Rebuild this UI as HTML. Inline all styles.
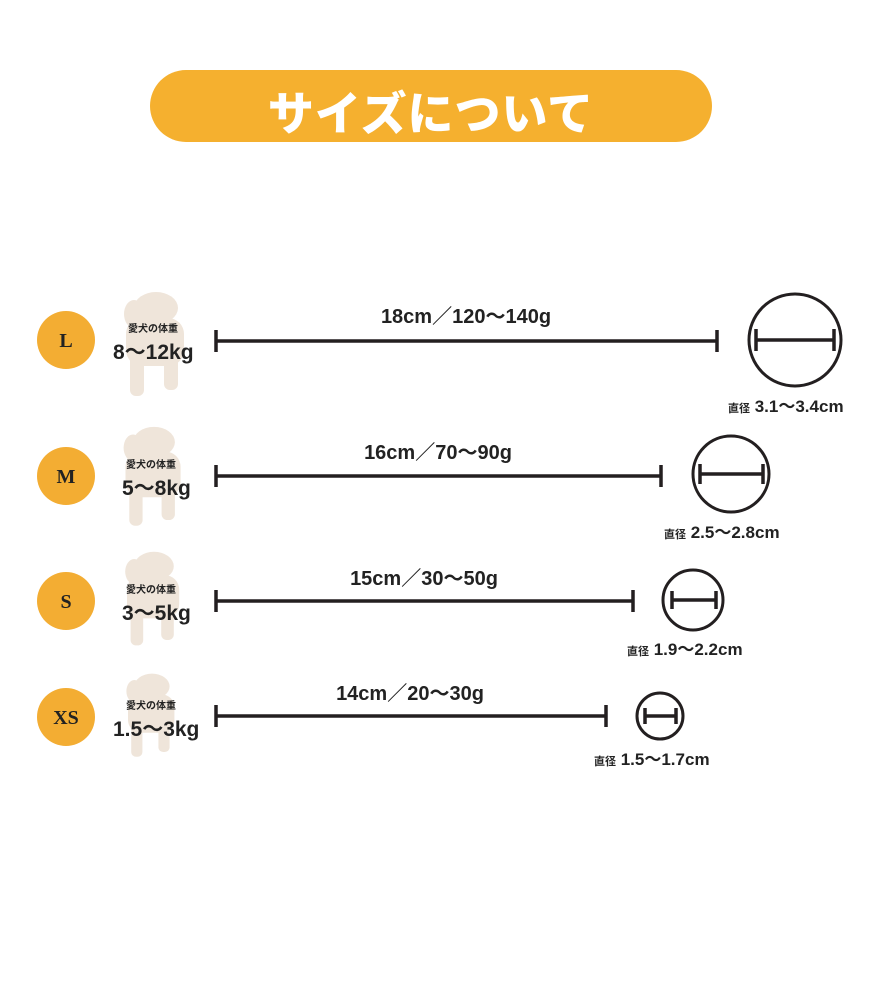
<!DOCTYPE html>
<html><head><meta charset="utf-8"><style>
body{margin:0;background:#fff;}
#c{position:relative;width:891px;height:1000px;overflow:hidden;font-family:"Liberation Sans","Noto Sans CJK JP",sans-serif;color:#222;}
.t{position:absolute;white-space:nowrap;font-weight:bold;}
</style></head><body><div id="c">
<div style="position:absolute;left:150px;top:70px;width:562px;height:72px;border-radius:36px;background:#f5b02f;"></div>
<div class="t" style="left:150px;width:562px;top:78px;text-align:center;color:#fff;font-size:46px;font-family:'Noto Sans CJK JP',sans-serif;font-weight:900;letter-spacing:1px;">サイズについて</div>
<svg width="891" height="1000" style="position:absolute;left:0;top:0" fill="none">
<defs><g id="dog" fill="#efe5da">
<ellipse cx="40" cy="18" rx="22" ry="16"/><ellipse cx="18" cy="24" rx="10" ry="14"/>
<rect x="10" y="28" width="58" height="48" rx="16"/>
<rect x="14" y="60" width="14" height="46" rx="6"/><rect x="48" y="60" width="14" height="40" rx="6"/>
</g></defs>
<use href="#dog" transform="translate(116,290)"/>
<use href="#dog" transform="translate(116,425) scale(0.95)"/>
<use href="#dog" transform="translate(118,550) scale(0.9)"/>
<use href="#dog" transform="translate(120,672) scale(0.8)"/>
<g fill="#f3ad33"><circle cx="66" cy="340" r="29"/><circle cx="66" cy="476" r="29"/><circle cx="66" cy="601" r="29"/><circle cx="66" cy="717" r="29"/></g>
<g stroke="#231f20" stroke-width="3.5">
<path d="M216 341H717M216 330V352M717 330V352"/>
<path d="M216 476H661M216 465V487M661 465V487"/>
<path d="M216 601H633M216 590V612M633 590V612"/>
<path d="M216 716H606M216 705V727M606 705V727"/>
<g stroke-width="3"><circle cx="795" cy="340" r="46"/><circle cx="731" cy="474" r="38"/><circle cx="693" cy="600" r="30"/><circle cx="660" cy="716" r="23"/></g>
<path d="M756 340H834M756 329V351M834 329V351"/>
<path d="M700 474H763M700 464V484M763 464V484"/>
<path d="M672 600H716M672 591V609M716 591V609"/>
<path d="M645 716H676M645 708V724M676 708V724"/>
</g></svg>
<div class="t" style="left:0;width:132px;top:330px;text-align:center;font-family:'Liberation Serif',serif;font-size:20px;">L</div>
<div class="t" style="left:0;width:132px;top:466px;text-align:center;font-family:'Liberation Serif',serif;font-size:20px;">M</div>
<div class="t" style="left:0;width:132px;top:591px;text-align:center;font-family:'Liberation Serif',serif;font-size:20px;">S</div>
<div class="t" style="left:0;width:132px;top:707px;text-align:center;font-family:'Liberation Serif',serif;font-size:20px;">XS</div>
<div class="t" style="left:128px;top:320px;font-size:10px;">愛犬の体重</div>
<div class="t" style="left:113px;top:336px;font-size:21px;">8〜12kg</div>
<div class="t" style="left:126px;top:456px;font-size:10px;">愛犬の体重</div>
<div class="t" style="left:122px;top:472px;font-size:21px;">5〜8kg</div>
<div class="t" style="left:126px;top:581px;font-size:10px;">愛犬の体重</div>
<div class="t" style="left:122px;top:597px;font-size:21px;">3〜5kg</div>
<div class="t" style="left:126px;top:697px;font-size:10px;">愛犬の体重</div>
<div class="t" style="left:113px;top:713px;font-size:21px;">1.5〜3kg</div>
<div class="t" style="left:366px;width:200px;top:300px;text-align:center;font-size:20px;">18cm／120〜140g</div>
<div class="t" style="left:338px;width:200px;top:436px;text-align:center;font-size:20px;">16cm／70〜90g</div>
<div class="t" style="left:324px;width:200px;top:562px;text-align:center;font-size:20px;">15cm／30〜50g</div>
<div class="t" style="left:310px;width:200px;top:677px;text-align:center;font-size:20px;">14cm／20〜30g</div>
<div class="t" style="left:728px;top:392px;font-size:17px;"><span style="font-size:11px">直径</span> 3.1〜3.4cm</div>
<div class="t" style="left:664px;top:518px;font-size:17px;"><span style="font-size:11px">直径</span> 2.5〜2.8cm</div>
<div class="t" style="left:627px;top:635px;font-size:17px;"><span style="font-size:11px">直径</span> 1.9〜2.2cm</div>
<div class="t" style="left:594px;top:745px;font-size:17px;"><span style="font-size:11px">直径</span> 1.5〜1.7cm</div>
</div></body></html>
